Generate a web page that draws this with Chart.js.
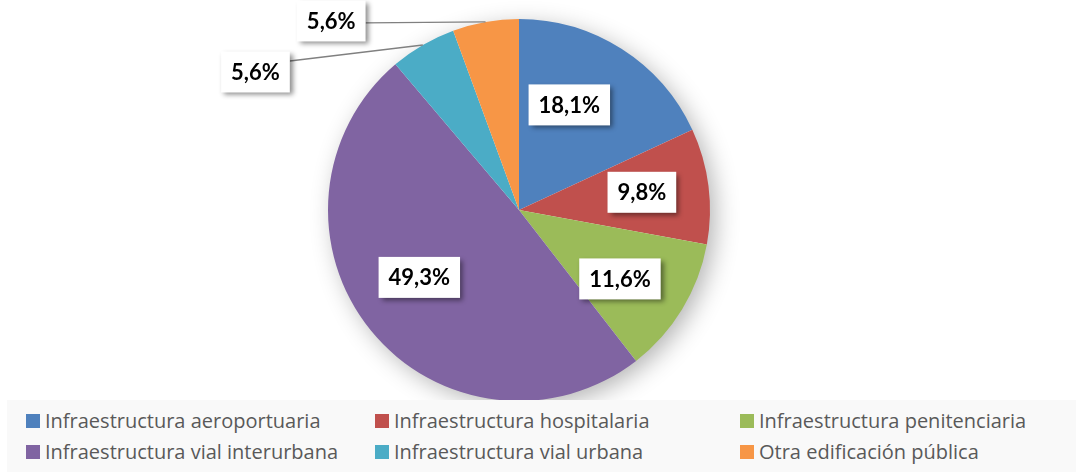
<!DOCTYPE html>
<html><head><meta charset="utf-8">
<script src="https://cdn.jsdelivr.net/npm/chart.js@4.4.1/dist/chart.umd.min.js"></script>
<style>
html,body{margin:0;padding:0;background:#fff;}
#wrap{position:relative;width:1076px;height:472px;overflow:hidden;}
#c{position:absolute;left:0;top:0;}
#legend{position:absolute;left:7px;top:400px;width:1069px;height:72px;background:#f9f9f9;}
.li{position:absolute;font-family:"Open Sans",Lato,sans-serif;font-size:20px;color:#595959;white-space:nowrap;line-height:20px;}
.sw{display:inline-block;width:14px;height:14px;margin-right:5px;vertical-align:0px;}
</style></head>
<body><div id="wrap"><canvas id="c" width="1076" height="472"></canvas><div id="legend"></div></div>
<script>
const categories = ["Infraestructura aeroportuaria","Infraestructura hospitalaria","Infraestructura penitenciaria","Infraestructura vial interurbana","Infraestructura vial urbana","Otra edificación pública"];
const shares = [18.1, 9.8, 11.6, 49.3, 5.6, 5.6];
const valueLabels = ["18,1%","9,8%","11,6%","49,3%","5,6%","5,6%"];
const colors = ["#4F81BD","#C0504D","#9BBB59","#8064A2","#4BACC6","#F79646"];
// label placement styles
const insideNudgeDeg = [-7, -1, 3, 5, 0, 0];
const insideRadius = [0.61, 0.65, 0.64, 0.63, 0, 0];
// outside: [dx to box right edge, dy of leader end, dy of box centre]
const outsideOffsets = [null,null,null,null,[-133,16,27],[-120,1,-1]];

const legend = document.getElementById('legend');
const colX = [19, 368, 733], rowY = [11, 42];
categories.forEach((c,i)=>{
  const d=document.createElement('div'); d.className='li';
  d.style.left=colX[i%3]+'px'; d.style.top=rowY[Math.floor(i/3)]+'px';
  d.innerHTML='<span class="sw" style="background:'+colors[i]+'"></span>'+c;
  legend.appendChild(d);
});

const shadowPlugin = {
  id:'pieShadow',
  beforeDatasetsDraw(chart){
    const a = chart.getDatasetMeta(0).data[0]; if(!a) return;
    const ctx=chart.ctx; ctx.save();
    ctx.shadowColor='rgba(0,0,0,0.3)'; ctx.shadowBlur=24; ctx.shadowOffsetX=6; ctx.shadowOffsetY=6;
    ctx.fillStyle='#ffffff'; ctx.beginPath(); ctx.arc(a.x,a.y,a.outerRadius-1,0,Math.PI*2); ctx.fill();
    ctx.restore();
  }
};
const labelPlugin = {
  id:'boxLabels',
  afterDatasetsDraw(chart){
    const ctx=chart.ctx; const meta=chart.getDatasetMeta(0);
    ctx.save();
    ctx.font='bold 22px Lato, "Open Sans", sans-serif';
    ctx.textAlign='center'; ctx.textBaseline='middle';
    meta.data.forEach((arc,i)=>{
      const mid=(arc.startAngle+arc.endAngle)/2;
      let x,y;
      const txt=valueLabels[i];
      const w=ctx.measureText(txt).width+20, h=41;
      if(!outsideOffsets[i]){
        const a=mid+insideNudgeDeg[i]*Math.PI/180;
        const r=arc.outerRadius*insideRadius[i];
        x=arc.x+Math.cos(a)*r; y=arc.y+Math.sin(a)*r;
      } else {
        const o=outsideOffsets[i];
        const ex=arc.x+Math.cos(mid)*arc.outerRadius, ey=arc.y+Math.sin(mid)*arc.outerRadius;
        const bx=ex+o[0];
        ctx.strokeStyle='#808080'; ctx.lineWidth=1.3;
        ctx.beginPath(); ctx.moveTo(ex,ey); ctx.lineTo(bx, ey+o[1]); ctx.stroke();
        x=bx-w/2; y=ey+o[2];
      }
      ctx.save();
      ctx.shadowColor='rgba(0,0,0,0.45)'; ctx.shadowBlur=5; ctx.shadowOffsetX=3; ctx.shadowOffsetY=3;
      ctx.fillStyle='#fff'; ctx.fillRect(x-w/2,y-h/2,w,h);
      ctx.restore();
      ctx.fillStyle='#000'; ctx.fillText(txt,x,y+1);
    });
    ctx.restore();
  }
};

new Chart(document.getElementById('c'),{
  type:'pie',
  data:{labels:categories,datasets:[{data:shares,backgroundColor:colors,borderWidth:0,hoverOffset:0}]},
  options:{
    responsive:false,animation:false,
    layout:{padding:{left:0,right:38,top:19,bottom:71}},
    plugins:{legend:{display:false},tooltip:{enabled:false}},
    events:[]
  },
  plugins:[shadowPlugin,labelPlugin]
});
</script></body></html>
